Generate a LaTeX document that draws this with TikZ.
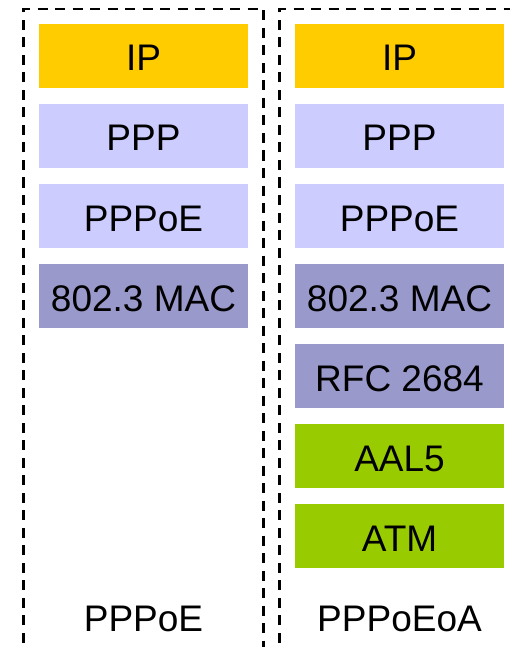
\documentclass[tikz,border=0pt]{standalone}
\usepackage{fontspec}
\setmainfont{Liberation Sans}
\definecolor{ipcol}{HTML}{FFCC00}
\definecolor{lightlav}{HTML}{CCCCFF}
\definecolor{midlav}{HTML}{9999CC}
\definecolor{greencol}{HTML}{99CC00}
\tikzset{
  layer/.style={fill=#1, draw=none, minimum width=209pt, minimum height=64pt,
    inner sep=0pt, text height=30pt, text depth=0pt,
    font=\fontsize{37}{44}\selectfont},
  frame/.style={draw=black, line width=2.6pt, dash pattern=on 10pt off 7.5pt},
  stacklabel/.style={anchor=base, font=\fontsize{37}{44}\selectfont}
}
\begin{document}
\begin{tikzpicture}[x=1pt,y=-1pt]
\useasboundingbox (0,0) rectangle (510,647);
\clip (0,0) rectangle (510,647);
% dashed frames
\draw[frame] (23.5,660) -- (23.5,9) -- (263.5,9) -- (263.5,660);
\draw[frame] (279.5,660) -- (279.5,9) -- (530,9);
% left stack
\node[layer=ipcol]    (lip)  at (143.5,56)  {IP};
\node[layer=lightlav] (lppp) at (143.5,136) {PPP};
\node[layer=lightlav] (lpoe) at (143.5,216) {PPPoE};
\node[layer=midlav]   (lmac) at (143.5,296) {802.3 MAC};
% right stack
\node[layer=ipcol]    (rip)  at (399.5,56)  {IP};
\node[layer=lightlav] (rppp) at (399.5,136) {PPP};
\node[layer=lightlav] (rpoe) at (399.5,216) {PPPoE};
\node[layer=midlav]   (rmac) at (399.5,296) {802.3 MAC};
\node[layer=midlav]   (rrfc) at (399.5,376) {RFC 2684};
\node[layer=greencol] (raal) at (399.5,456) {AAL5};
\node[layer=greencol] (ratm) at (399.5,536) {ATM};
% labels
\node[stacklabel] (lname) at (143.5,631.5) {PPPoE};
\node[stacklabel] (rname) at (399.5,631.5) {PPPoEoA};
\end{tikzpicture}
\end{document}
